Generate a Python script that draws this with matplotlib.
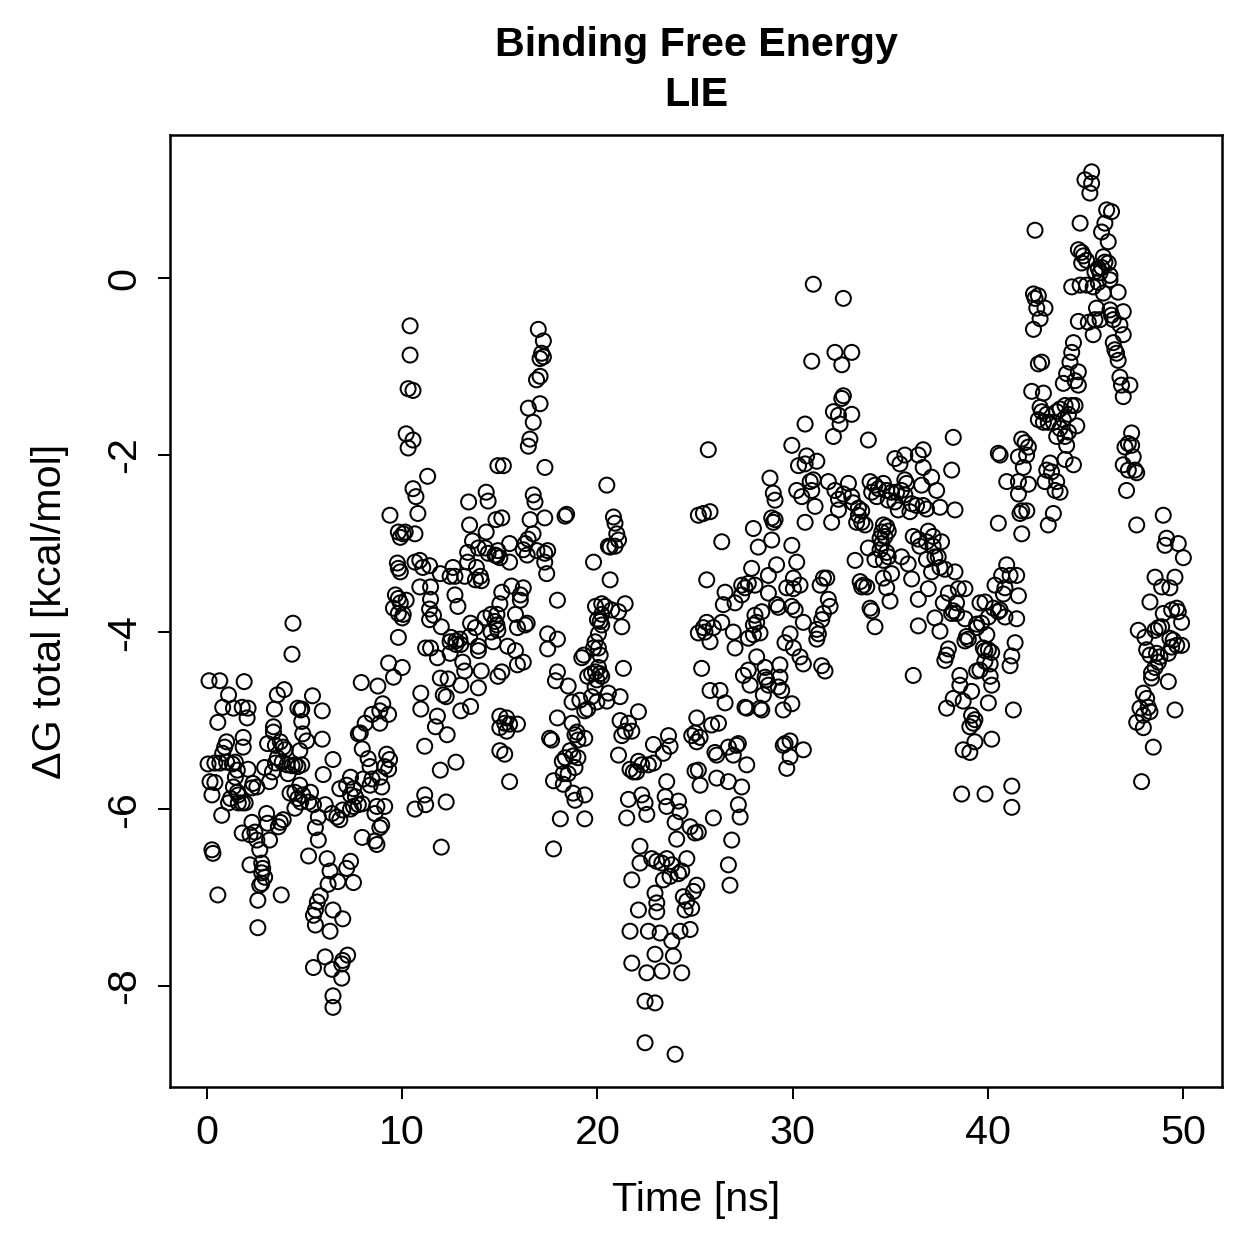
import matplotlib
matplotlib.use("Agg")
import matplotlib.pyplot as plt

plt.rcParams['font.family'] = ['Liberation Sans', 'DejaVu Sans']

# (time [ns], dG [kcal/mol]), grouped by time window
seg_00_05 = [(4.4,-3.9),(4.35,-4.25),(0.1,-4.55),(0.65,-4.55),(1.9,-4.56),(1.1,-4.71),(3.6,-4.71),(3.95,-4.65),
 (0.8,-4.85),(1.35,-4.86),(1.8,-4.85),(2.1,-4.86),(2.05,-4.97),(0.55,-5.02),(3.45,-4.87),(4.65,-4.86),(4.8,-4.88),
 (3.4,-5.07),(3.4,-5.13),(3.1,-5.26),(1.85,-5.19),(1.85,-5.3),(1.0,-5.24),(0.9,-5.3),(0.8,-5.37),
 (0.05,-5.49),(0.4,-5.48),(0.65,-5.48),(1.0,-5.47),(1.3,-5.49),(1.45,-5.47),(1.55,-5.56),(2.1,-5.55),(1.45,-5.64),
 (3.5,-5.28),(3.75,-5.24),(3.9,-5.3),(4.0,-5.33),(3.6,-5.42),(3.5,-5.48),(3.85,-5.47),(4.1,-5.5),(4.35,-5.51),
 (4.5,-5.5),(4.65,-5.52),(3.35,-5.58),(3.2,-5.69),(2.95,-5.53),(4.15,-5.6),(0.15,-5.69),(0.4,-5.7),(0.25,-5.84),
 (1.35,-5.75),(1.2,-5.88),(1.55,-5.81),(1.6,-5.84),(1.8,-5.93),(1.6,-5.93),(1.1,-5.93),(1.95,-5.93),(2.35,-5.71),
 (2.55,-5.75),(2.3,-5.76),(0.75,-6.07),(4.25,-5.82),(4.5,-5.81),(4.65,-5.88),(4.8,-5.92),(4.5,-5.99),(3.05,-6.05),
 (3.1,-6.16),(3.75,-6.15),(3.9,-6.12),(3.65,-6.2),(2.3,-6.15),(2.2,-6.29),(1.8,-6.27),(2.55,-6.35),(2.45,-6.26),
 (3.2,-6.35),(2.7,-6.46),(0.25,-6.46),(0.3,-6.5),(2.2,-6.63),(2.8,-6.61),(2.85,-6.67),(2.8,-6.72),(2.95,-6.77),
 (2.8,-6.84),(2.7,-6.86),(0.55,-6.97),(2.6,-7.03),(3.8,-6.97),(2.6,-7.34)]

seg_05_10 = [(9.37,-2.68),(9.8,-2.87),(9.9,-2.93),(9.75,-3.22),(9.8,-3.28),(9.9,-3.32),(9.65,-3.58),(9.8,-3.62),
 (9.55,-3.73),(9.9,-3.67),(9.8,-3.79),(10.0,-3.84),(9.8,-4.06),(9.3,-4.35),(9.55,-4.51),(7.9,-4.57),(8.75,-4.61),
 (9.0,-4.81),(8.85,-4.89),(8.45,-4.93),(8.1,-5.03),(7.85,-5.14),(7.75,-5.15),(8.85,-5.03),(9.3,-4.93),(5.4,-4.72),
 (5.9,-4.89),(4.85,-4.87),(4.85,-5.01),(4.9,-5.15),(5.1,-5.23),(5.9,-5.21),(4.85,-5.5),(4.75,-5.34),(6.45,-5.44),
 (5.95,-5.61),(7.95,-5.32),(8.25,-5.43),(8.35,-5.52),(8.45,-5.66),(8.0,-5.66),(8.35,-5.73),(8.95,-5.75),(8.85,-5.64),
 (9.2,-5.38),(9.35,-5.44),(9.3,-5.55),(9.1,-5.52),(7.35,-5.64),(7.15,-5.73),(7.5,-5.77),(7.35,-5.84),(6.8,-5.77),
 (7.6,-5.86),(4.75,-5.73),(4.9,-5.84),(5.3,-5.81),(5.2,-5.92),(5.45,-5.95),(6.05,-5.95),(5.7,-6.09),(5.55,-6.21),
 (5.7,-6.35),(6.4,-6.05),(6.65,-6.09),(6.8,-6.12),(6.95,-6.01),(7.35,-6.0),(7.5,-5.97),(7.75,-5.95),(7.95,-5.94),
 (8.7,-5.97),(9.1,-5.97),(8.6,-6.05),(8.95,-6.18),(8.85,-6.21),(7.95,-6.32),(8.6,-6.36),(8.7,-6.4),(5.2,-6.53),
 (6.15,-6.56),(6.3,-6.7),(6.2,-6.85),(7.35,-6.59),(7.15,-6.67),(7.5,-6.83),(6.7,-6.82),(5.8,-6.98),(5.65,-7.05),
 (5.55,-7.14),(5.45,-7.2),(5.55,-7.31),(6.45,-7.14),(6.95,-7.24),(6.3,-7.38),(5.45,-7.79),(6.05,-7.67),(6.4,-7.81),
 (6.9,-7.75),(7.2,-7.65),(6.95,-7.71),(6.9,-7.91),(6.45,-8.11),(6.45,-8.24)]

seg_10_15 = [(10.4,-0.54),(10.4,-0.87),(10.3,-1.25),(10.55,-1.27),(10.2,-1.76),(10.55,-1.83),(10.3,-1.92),(11.3,-2.24),
 (10.55,-2.38),(10.7,-2.47),(10.8,-2.66),(10.05,-2.89),(10.15,-2.87),(10.65,-2.89),(10.65,-3.21),(10.9,-3.19),
 (11.05,-3.27),(11.4,-3.25),(10.9,-3.49),(10.2,-3.64),(10.05,-3.8),(10.0,-4.4),(10.95,-4.69),(10.95,-4.87),
 (11.15,-5.29),(11.8,-4.95),(11.7,-5.07),(12.3,-5.16),(11.95,-5.56),(12.75,-5.47),(11.15,-5.84),(10.65,-6.0),
 (11.2,-5.95),(12.25,-5.92),(12.0,-6.43),(13.4,-2.53),(14.3,-2.42),(14.4,-2.52),(14.9,-2.12),(13.45,-2.79),
 (13.6,-2.97),(13.35,-3.1),(13.9,-3.05),(14.25,-3.05),(14.4,-3.11),(14.75,-3.13),(14.3,-2.87),(14.8,-2.73),
 (13.35,-3.21),(13.8,-3.27),(14.0,-3.37),(13.75,-3.41),(14.05,-3.42),(12.6,-3.27),(12.7,-3.37),(12.45,-3.37),
 (13.2,-3.37),(11.95,-3.34),(11.45,-3.49),(11.45,-3.63),(11.4,-3.74),(11.6,-3.81),(11.4,-3.86),(12.0,-3.94),
 (12.7,-3.58),(12.85,-3.71),(13.5,-3.9),(13.75,-3.95),(13.45,-4.05),(14.25,-3.84),(14.55,-3.8),(14.75,-3.88),
 (14.55,-4.0),(14.9,-3.98),(14.65,-4.11),(12.5,-4.06),(12.75,-4.1),(12.95,-4.08),(12.45,-4.11),(12.75,-4.14),
 (13.0,-4.14),(11.2,-4.18),(11.45,-4.18),(11.8,-4.29),(12.45,-4.24),(13.1,-4.34),(13.2,-4.44),(13.0,-4.6),
 (13.9,-4.16),(13.9,-4.21),(14.05,-4.44),(13.9,-4.63),(13.5,-4.84),(11.95,-4.52),(12.35,-4.53),(12.1,-4.71),
 (12.25,-4.73),(13.0,-4.89),(14.9,-4.5),(15.0,-4.95),(15.0,-5.08),(15.0,-5.34)]

seg_15_20 = [(16.97,-0.58),(17.23,-0.71),(17.14,-0.85),(17.23,-0.89),(17.06,-0.91),(17.06,-1.11),(16.88,-1.15),
 (16.46,-1.47),(17.06,-1.42),(16.71,-1.63),(16.54,-1.82),(16.46,-1.9),(15.18,-2.12),(17.31,-2.14),(16.71,-2.45),
 (16.8,-2.53),(18.42,-2.67),(18.34,-2.69),(15.1,-2.71),(16.55,-2.73),(17.3,-2.71),(16.7,-2.89),(16.45,-2.95),
 (16.3,-3.0),(16.2,-3.07),(15.5,-3.0),(14.9,-3.08),(15.0,-3.16),(14.85,-3.14),(15.5,-3.21),(16.4,-3.13),(16.9,-3.08),
 (17.3,-3.11),(17.45,-3.08),(17.3,-3.21),(17.4,-3.34),(19.8,-3.21),(15.6,-3.48),(16.2,-3.5),(16.05,-3.58),
 (16.05,-3.64),(15.1,-3.55),(15.0,-3.68),(14.85,-3.8),(14.85,-3.92),(15.8,-3.8),(15.9,-3.95),(16.3,-3.92),
 (16.4,-3.9),(17.95,-3.64),(17.45,-4.02),(17.95,-4.08),(17.45,-4.19),(15.4,-4.16),(15.9,-4.37),(16.2,-4.34),
 (15.8,-4.21),(15.1,-4.45),(19.8,-4.18),(20.05,-4.02),(20.0,-3.86),(19.9,-3.71),(19.3,-4.26),(19.2,-4.29),
 (19.5,-4.5),(19.7,-4.47),(19.9,-4.45),(17.95,-4.45),(17.85,-4.55),(18.5,-4.61),(18.7,-4.79),(19.1,-4.77),
 (19.35,-4.89),(19.5,-4.87),(19.7,-4.73),(17.95,-4.97),(17.55,-5.2),(17.65,-5.22),(18.7,-5.03),(18.95,-5.13),
 (18.85,-5.16),(19.0,-5.22),(19.35,-5.2),(15.35,-4.97),(15.25,-5.03),(15.5,-5.04),(15.9,-5.04),(15.35,-5.12),
 (15.25,-5.38),(15.5,-5.69),(18.6,-5.34),(18.35,-5.42),(18.2,-5.46),(18.75,-5.4),(19.0,-5.42),(18.25,-5.6),
 (18.5,-5.6),(18.85,-5.53),(17.75,-5.68),(18.25,-5.72),(18.75,-5.82),(18.85,-5.9),(19.35,-5.84),(18.1,-6.11),
 (19.35,-6.11),(17.75,-6.45)]

seg_20_25 = [(20.48,-2.34),(20.82,-2.7),(20.9,-2.77),(20.99,-2.89),(21.08,-2.96),(20.9,-3.03),(20.65,-3.04),
 (20.56,-3.03),(20.65,-3.41),(25.17,-2.68),(20.22,-3.68),(20.39,-3.71),(20.22,-3.8),(20.14,-3.88),(20.22,-3.92),
 (20.73,-3.75),(21.08,-3.77),(21.42,-3.68),(21.25,-3.94),(19.88,-4.11),(20.05,-4.18),(20.14,-4.26),(20.05,-4.4),
 (20.14,-4.47),(19.97,-4.54),(20.22,-4.5),(19.88,-4.62),(21.33,-4.41),(25.17,-4.01),(20.56,-4.69),(20.48,-4.78),
 (21.16,-4.73),(19.97,-4.79),(22.1,-4.9),(21.16,-5.0),(21.59,-5.03),(21.42,-5.12),(21.25,-5.17),(21.76,-5.12),
 (22.87,-5.27),(23.64,-5.17),(23.72,-5.29),(23.38,-5.37),(21.08,-5.39),(24.83,-5.17),(22.1,-5.46),(21.67,-5.55),
 (21.84,-5.58),(22.01,-5.58),(22.27,-5.5),(22.61,-5.5),(22.87,-5.48),(25.0,-5.57),(23.55,-5.69),(21.59,-5.89),
 (21.5,-6.1),(22.27,-5.84),(22.44,-5.93),(22.53,-6.06),(23.47,-5.86),(23.55,-5.97),(24.15,-5.91),(24.23,-6.03),
 (23.98,-6.15),(24.75,-6.2),(25.0,-6.27),(24.06,-6.34),(22.18,-6.42),(22.18,-6.61),(22.78,-6.56),(23.04,-6.59),
 (23.3,-6.61),(23.55,-6.56),(23.81,-6.63),(24.15,-6.73),(24.32,-6.7),(24.58,-6.56),(23.38,-6.8),(23.72,-6.76),
 (21.76,-6.8),(22.95,-6.95),(23.04,-7.06),(23.04,-7.16),(24.4,-6.99),(24.58,-7.04),(24.49,-7.14),(24.83,-7.12),
 (24.92,-6.93),(22.1,-7.14),(21.67,-7.38),(22.61,-7.38),(23.21,-7.4),(23.81,-7.49),(24.23,-7.38),(24.75,-7.36),
 (22.95,-7.64),(23.89,-7.66),(21.76,-7.74),(22.53,-7.85),(23.3,-7.83),(24.32,-7.85),(22.44,-8.17),(22.95,-8.19),
 (22.44,-8.64),(23.98,-8.77)]

seg_25_30 = [(25.68,-1.94),(28.84,-2.26),(29.01,-2.43),(29.1,-2.51),(25.43,-2.66),(25.77,-2.64),(28.93,-2.71),
 (29.1,-2.73),(29.01,-2.76),(27.99,-2.83),(26.37,-2.98),(28.93,-2.96),(28.24,-3.04),(27.9,-3.28),(29.18,-3.24),
 (28.76,-3.36),(25.6,-3.41),(27.39,-3.47),(27.73,-3.45),(28.07,-3.47),(27.56,-3.5),(26.54,-3.55),(26.45,-3.69),
 (27.05,-3.67),(27.39,-3.58),(28.76,-3.56),(29.7,-3.5),(29.18,-3.69),(29.27,-3.72),(28.42,-3.77),(28.07,-3.81),
 (28.16,-3.89),(27.99,-3.92),(25.6,-3.89),(25.43,-3.95),(25.51,-4.0),(25.94,-3.95),(26.37,-3.89),(25.77,-4.11),
 (26.96,-4.0),(27.05,-4.18),(27.73,-4.07),(27.99,-4.03),(28.33,-4.01),(29.61,-4.12),(28.16,-4.28),(29.35,-4.37),
 (28.59,-4.4),(27.73,-4.43),(27.48,-4.49),(27.82,-4.6),(28.59,-4.51),(28.67,-4.54),(28.76,-4.6),(29.35,-4.51),
 (29.27,-4.62),(29.44,-4.66),(25.34,-4.41),(25.77,-4.66),(26.28,-4.66),(26.54,-4.8),(28.5,-4.71),(27.56,-4.85),
 (27.65,-4.86),(28.33,-4.86),(28.42,-4.88),(29.52,-4.88),(25.09,-4.97),(25.85,-5.05),(26.2,-5.03),(25.0,-5.14),
 (25.26,-5.19),(25.09,-5.24),(26.02,-5.36),(26.11,-5.39),(26.71,-5.3),(27.13,-5.28),(26.96,-5.39),(27.22,-5.26),
 (29.52,-5.28),(29.61,-5.26),(27.65,-5.5),(29.7,-5.54),(25.17,-5.56),(25.26,-5.73),(26.11,-5.65),(26.71,-5.69),
 (27.39,-5.75),(27.22,-5.95),(27.31,-6.09),(25.94,-6.1),(25.17,-6.26),(26.88,-6.35),(26.71,-6.63),(26.79,-6.86),
 (25.09,-6.86)]

seg_30_35 = [(31.06,-0.07),(32.6,-0.23),(30.98,-0.94),(32.17,-0.84),(33.03,-0.84),(32.52,-0.98),(32.6,-1.33),
 (32.52,-1.36),(32.09,-1.51),(32.35,-1.55),(33.03,-1.54),(32.43,-1.65),(30.64,-1.65),(32.09,-1.79),(33.88,-1.83),
 (29.96,-1.89),(30.3,-2.12),(30.72,-2.01),(31.24,-2.07),(30.64,-2.1),(30.21,-2.4),(30.47,-2.47),(30.9,-2.3),
 (31.06,-2.28),(30.98,-2.4),(31.83,-2.3),(31.15,-2.58),(30.64,-2.76),(32.17,-2.4),(32.35,-2.5),(32.86,-2.32),
 (32.6,-2.44),(33.03,-2.47),(33.11,-2.54),(33.37,-2.6),(33.54,-2.63),(33.37,-2.68),(33.28,-2.76),(33.54,-2.76),
 (33.71,-2.79),(32.35,-2.62),(32.0,-2.76),(33.97,-2.3),(34.22,-2.34),(34.4,-2.38),(34.05,-2.42),(34.31,-2.47),
 (34.65,-2.32),(34.65,-2.79),(34.57,-2.87),(34.48,-2.94),(34.57,-3.0),(34.48,-3.07),(34.22,-3.18),(34.65,-3.19),
 (33.88,-3.05),(33.2,-3.19),(29.96,-3.02),(30.21,-3.21),(30.04,-3.39),(30.38,-3.47),(31.58,-3.39),(31.75,-3.39),
 (31.41,-3.47),(31.83,-3.63),(31.92,-3.71),(31.58,-3.79),(33.46,-3.43),(33.63,-3.47),(33.54,-3.49),(33.8,-3.49),
 (34.65,-3.39),(33.97,-3.73),(34.05,-3.76),(34.22,-3.94),(30.04,-3.51),(29.96,-3.71),(30.13,-3.75),(30.55,-3.89),
 (29.87,-4.02),(30.04,-4.18),(30.38,-4.28),(30.55,-4.36),(31.49,-3.86),(31.24,-3.97),(31.32,-4.02),(31.24,-4.08),
 (31.49,-4.38),(31.66,-4.44),(29.96,-4.81),(29.87,-5.23),(30.55,-5.33),(29.87,-5.41)]

seg_35_40 = [(38.23,-1.8),(35.24,-2.04),(35.75,-2.0),(36.44,-2.0),(36.69,-1.94),(35.5,-2.1),(36.69,-2.14),
 (37.12,-2.25),(38.15,-2.17),(36.61,-2.34),(37.38,-2.4),(38.32,-2.62),(35.75,-2.28),(35.84,-2.32),(34.82,-2.4),
 (35.07,-2.42),(35.33,-2.42),(35.58,-2.4),(35.75,-2.45),(34.9,-2.51),(35.24,-2.53),(36.1,-2.55),(36.35,-2.57),
 (36.69,-2.57),(36.86,-2.61),(37.55,-2.59),(36.01,-2.64),(35.41,-2.62),(34.82,-2.81),(34.9,-2.86),(34.73,-2.92),
 (36.18,-2.92),(36.44,-2.95),(36.95,-2.86),(37.2,-2.92),(36.52,-3.03),(36.86,-2.98),(37.2,-3.03),(37.63,-2.98),
 (34.82,-3.1),(34.9,-3.15),(35.07,-3.34),(34.82,-3.5),(34.99,-3.65),(35.58,-3.15),(35.92,-3.23),(36.86,-3.18),
 (37.29,-3.15),(37.46,-3.15),(37.55,-3.27),(37.12,-3.32),(37.8,-3.29),(38.32,-3.32),(36.1,-3.4),(36.95,-3.51),
 (36.44,-3.63),(37.29,-3.84),(36.44,-3.93),(37.55,-3.99),(37.98,-3.56),(38.49,-3.51),(38.83,-3.51),(37.72,-3.67),
 (38.4,-3.67),(38.23,-3.76),(38.4,-3.79),(38.83,-3.85),(38.15,-3.79),(39.6,-3.67),(39.43,-3.91),(39.68,-3.9),
 (39.43,-3.95),(38.91,-4.05),(39.0,-4.08),(38.83,-4.1),(37.98,-4.19),(37.89,-4.26),(37.8,-4.32),(39.77,-4.18),
 (39.85,-4.21),(39.85,-4.33),(39.6,-4.43),(39.43,-4.44),(36.18,-4.49),(38.57,-4.49),(38.57,-4.6),(39.17,-4.67),
 (38.23,-4.75),(37.89,-4.86),(38.74,-4.78),(39.17,-4.94),(39.34,-4.99),(39.26,-5.03),(39.08,-5.07),(39.34,-5.24),
 (38.74,-5.33),(39.08,-5.36),(38.66,-5.83)]

seg_40_45 = [(42.42,0.54),(44.73,0.62),(44.64,0.32),(44.81,0.29),(44.9,0.25),(44.81,0.17),(44.3,-0.1),(44.73,-0.08),
 (42.34,-0.18),(42.42,-0.23),(42.59,-0.2),(42.51,-0.34),(42.93,-0.34),(42.68,-0.46),(42.34,-0.58),(44.64,-0.49),
 (44.39,-0.73),(44.3,-0.84),(44.21,-0.95),(44.04,-1.08),(44.64,-1.06),(44.47,-1.16),(43.87,-1.19),(44.64,-1.21),
 (42.59,-0.97),(42.76,-0.95),(42.25,-1.28),(42.85,-1.3),(42.68,-1.46),(42.76,-1.51),(43.02,-1.54),(42.59,-1.6),
 (42.85,-1.63),(43.1,-1.63),(43.36,-1.63),(43.53,-1.51),(43.7,-1.48),(43.96,-1.44),(44.13,-1.54),(43.87,-1.6),
 (44.3,-1.44),(44.47,-1.44),(43.7,-1.7),(43.53,-1.79),(44.13,-1.74),(43.96,-1.79),(44.56,-1.67),(44.04,-1.89),
 (43.96,-2.05),(44.39,-2.11),(41.74,-1.82),(41.91,-1.86),(42.08,-1.91),(41.57,-2.02),(41.99,-2.0),(41.82,-2.14),
 (40.54,-1.98),(40.63,-2.0),(43.19,-2.09),(43.02,-2.17),(43.27,-2.19),(42.93,-2.3),(43.53,-2.3),(43.45,-2.4),
 (43.7,-2.42),(40.97,-2.3),(41.57,-2.3),(41.57,-2.44),(42.08,-2.33),(41.74,-2.63),(42.0,-2.63),(41.65,-2.66),
 (43.36,-2.66),(43.1,-2.79),(40.54,-2.77),(41.74,-2.89),(40.97,-3.24),(40.71,-3.36),(41.14,-3.36),(41.48,-3.36),
 (40.37,-3.47),(40.88,-3.5),(41.57,-3.59),(40.8,-3.57),(39.86,-3.66),(40.29,-3.73),(40.54,-3.77),(40.88,-3.83),
 (40.03,-3.83),(41.48,-3.85),(40.63,-3.75),(39.95,-4.03),(40.03,-4.2),(40.2,-4.23),(40.12,-4.36),(41.4,-4.12),
 (41.23,-4.27),(41.14,-4.38),(40.12,-4.5),(40.2,-4.6),(40.03,-4.8),(41.31,-4.88),(40.2,-5.21),(39.86,-5.83),
 (41.23,-5.74),(41.23,-5.98)]

seg_45_50 = [(45.32,1.2),(44.98,1.11),(45.32,1.07),(45.23,0.96),(46.09,0.77),(46.34,0.75),(46.0,0.62),(45.83,0.52),
 (46.17,0.41),(45.06,0.2),(45.92,0.24),(46.0,0.18),(45.83,0.12),(45.66,0.11),(45.49,0.07),(46.17,0.17),(45.75,0.06),
 (46.26,0.03),(46.26,-0.02),(45.06,-0.08),(45.4,-0.1),(45.66,-0.05),(45.92,-0.17),(46.68,-0.16),(45.57,-0.34),
 (46.26,-0.36),(46.94,-0.38),(45.15,-0.5),(45.49,-0.47),(45.75,-0.47),(46.34,-0.42),(46.43,-0.47),(46.77,-0.53),
 (45.4,-0.64),(46.94,-0.64),(46.43,-0.73),(46.51,-0.81),(46.6,-0.85),(46.68,-0.93),(46.77,-1.12),(46.85,-1.21),
 (47.28,-1.21),(46.94,-1.34),(47.37,-1.75),(47.2,-1.87),(47.03,-1.91),(47.37,-1.89),(47.45,-2.02),(46.94,-2.11),
 (47.2,-2.17),(47.54,-2.17),(47.63,-2.2),(47.11,-2.4),(48.99,-2.68),(47.63,-2.79),(49.16,-2.94),(49.08,-3.02),
 (49.76,-3.0),(50.02,-3.16),(48.57,-3.38),(49.59,-3.38),(48.91,-3.49),(49.33,-3.5),(48.31,-3.66),(48.99,-3.79),
 (49.42,-3.75),(49.68,-3.73),(49.76,-3.77),(49.93,-3.89),(48.74,-3.95),(48.91,-3.94),(48.57,-3.98),(47.71,-3.98),
 (48.05,-4.06),(49.33,-4.07),(49.5,-4.09),(49.42,-4.17),(49.68,-4.15),(49.93,-4.15),(49.25,-4.24),(48.14,-4.2),
 (48.31,-4.26),(48.65,-4.24),(48.82,-4.28),(48.74,-4.34),(48.57,-4.4),(48.39,-4.46),(48.39,-4.52),(49.25,-4.56),
 (47.97,-4.69),(48.14,-4.75),(47.8,-4.86),(48.22,-4.85),(48.31,-4.9),(47.97,-4.94),(49.59,-4.88),(47.63,-5.02),
 (47.97,-5.08),(48.48,-5.3),(47.88,-5.69)]

x_ticks = [0, 10, 20, 30, 40, 50]
y_ticks = [-8, -6, -4, -2, 0]
title_lines = ["Binding Free Energy", "LIE"]
x_label = "Time [ns]"
y_label = "\u0394G total [kcal/mol]"

segments = [seg_00_05, seg_05_10, seg_10_15, seg_15_20, seg_20_25,
            seg_25_30, seg_30_35, seg_35_40, seg_40_45, seg_45_50]
times = [p[0] for s in segments for p in s]
dg = [p[1] for s in segments for p in s]

W = H = 1259
DPI = 180
fig = plt.figure(figsize=(W / DPI, H / DPI), dpi=DPI)
ax = fig.add_axes([170 / W, 1 - 1087 / H, (1222 - 170) / W, (1087 - 135) / H])

ax.scatter(times, dg, s=36, facecolors='none', edgecolors='black', linewidths=0.8)

ax.set_xlim(-1.9, 52.0)
ax.set_ylim(-9.14, 1.616)
ax.set_xticks(x_ticks)
ax.set_xticklabels([str(v) for v in x_ticks])
ax.set_yticks(y_ticks)
ax.set_yticklabels([str(v) for v in y_ticks], rotation=90, va='center')
ax.tick_params(axis='both', direction='out', length=4.8, width=0.8, labelsize=16.5, colors='black')
ax.tick_params(axis='x', pad=6)
ax.tick_params(axis='y', pad=6)
for sp in ax.spines.values():
    sp.set_linewidth(1.0)
    sp.set_color('black')

fig.text(696 / W, 1 - 1200 / H, x_label, ha='center', va='center', fontsize=16.5)
fig.text(50 / W, 1 - 611 / H, y_label, ha='center', va='center', rotation=90, fontsize=16.5)
fig.text(696 / W, 1 - 45 / H, title_lines[0], ha='center', va='center', fontsize=16.5, fontweight='bold')
fig.text(696 / W, 1 - 95 / H, title_lines[1], ha='center', va='center', fontsize=16.5, fontweight='bold')

fig.savefig("out.png", dpi=DPI)
